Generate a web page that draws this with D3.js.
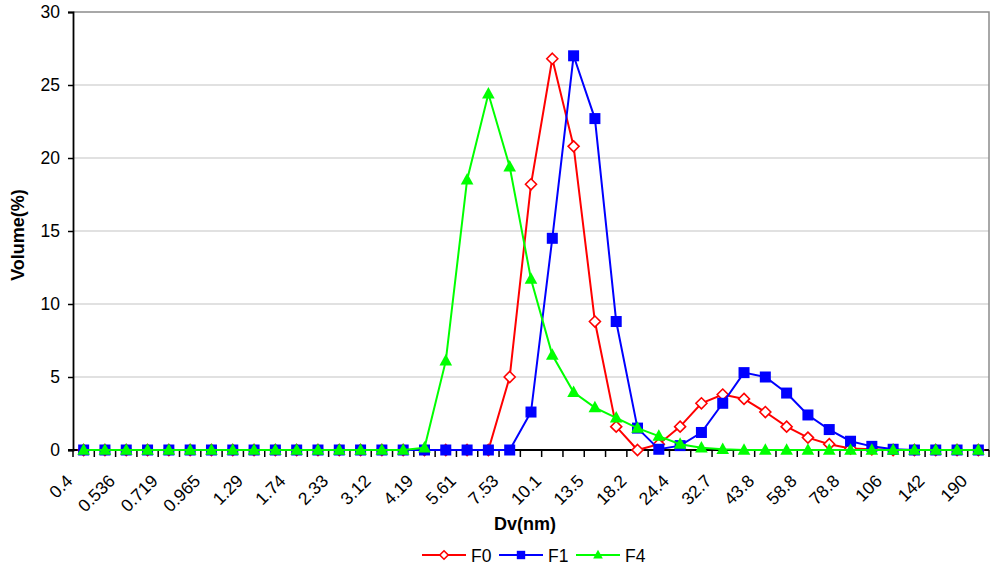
<!DOCTYPE html>
<html>
<head>
<meta charset="utf-8">
<script src="https://cdn.jsdelivr.net/npm/d3@7"></script>
<style>
  body { margin: 0; background: #fff; }
  text { font-family: "Liberation Sans", Arial, sans-serif; }
</style>
</head>
<body>
<div id="chart"></div>
<script>
// size classes (nm), one per measured channel
var sizes = ["0.4", "0.464", "0.536", "0.62", "0.719", "0.834", "0.965", "1.12", "1.29", "1.5",
             "1.74", "2.01", "2.33", "2.7", "3.12", "3.62", "4.19", "4.85", "5.61", "6.49",
             "7.53", "8.72", "10.1", "11.7", "13.5", "15.7", "18.2", "21", "24.4", "28.2",
             "32.7", "37.8", "43.8", "50.7", "58.8", "68.1", "78.8", "91.3", "106", "122",
             "142", "164", "190"];

var f0 = [0, 0, 0, 0, 0, 0, 0, 0, 0, 0,
          0, 0, 0, 0, 0, 0, 0, 0, 0, 0,
          5.0, 18.2, 26.8, 20.8, 8.8, 1.6, 0.0, 0.4, 1.6, 3.2,
          3.8, 3.5, 2.6, 1.6, 0.85, 0.4, 0.1, 0.05, 0, 0,
          0, 0, 0];

var f1 = [0, 0, 0, 0, 0, 0, 0, 0, 0, 0,
          0, 0, 0, 0, 0, 0, 0, 0, 0, 0,
          0, 2.6, 14.5, 27.0, 22.7, 8.8, 1.5, 0.05, 0.3, 1.2,
          3.2, 5.3, 5.0, 3.9, 2.4, 1.4, 0.6, 0.25, 0.05, 0,
          0, 0, 0];

var f4 = [0, 0, 0, 0, 0, 0, 0, 0, 0, 0,
          0, 0, 0, 0, 0, 0, 0.15, 6.1, 18.5, 24.4,
          19.4, 11.7, 6.5, 3.95, 2.9, 2.2, 1.5, 0.95, 0.4, 0.15,
          0.05, 0, 0, 0, 0, 0, 0, 0, 0, 0,
          0, 0, 0];

var yTicks = [0, 5, 10, 15, 20, 25, 30];

var series = [
  { name: "F0", values: f0, color: "#ff0000", shape: "diamond" },
  { name: "F1", values: f1, color: "#0000ff", shape: "square" },
  { name: "F4", values: f4, color: "#00ff00", shape: "triangle" }
];

var width = 1000, height = 570;
var pLeft = 73, pRight = 989, pTop = 12, pBottom = 450;

var svg = d3.select("#chart").append("svg")
            .attr("width", width)
            .attr("height", height);

var x = d3.scaleBand()
          .domain(sizes)
          .range([pLeft, pRight]);

var y = d3.scaleLinear()
          .domain([0, 30])
          .range([pBottom, pTop]);

function cx(i) { return x(sizes[i]) + x.bandwidth() / 2; }

// gridlines
svg.append("g")
   .selectAll("line")
   .data(yTicks.filter(function(d) { return d > 0 && d < 30; }))
   .enter().append("line")
   .attr("x1", pLeft).attr("x2", pRight)
   .attr("y1", function(d) { return y(d); })
   .attr("y2", function(d) { return y(d); })
   .attr("stroke", "#c4c4c4")
   .attr("stroke-width", 1.2);

// plot frame (top and right)
svg.append("path")
   .attr("d", "M" + pLeft + "," + y(30) + "H" + pRight + "V" + pBottom)
   .attr("fill", "none")
   .attr("stroke", "#8c8c8c")
   .attr("stroke-width", 1.5);

// y axis
var yAxis = svg.append("g")
               .attr("transform", "translate(" + pLeft + ",0)")
               .call(d3.axisLeft(y).tickValues(yTicks).tickSize(5).tickPadding(8));
yAxis.select(".domain").attr("stroke", "#000").attr("stroke-width", 1.8);
yAxis.selectAll(".tick line").attr("stroke", "#000").attr("stroke-width", 1.5);
yAxis.selectAll(".tick text")
     .style("font-size", "17.5px")
     .style("font-family", "Liberation Sans, Arial, sans-serif")
     .attr("fill", "#000");

// x axis: ticks on category boundaries
var xg = svg.append("g");
xg.append("line")
  .attr("x1", pLeft - 5).attr("x2", pRight)
  .attr("y1", pBottom).attr("y2", pBottom)
  .attr("stroke", "#000").attr("stroke-width", 1.8);

var bounds = sizes.map(function(d) { return x(d); }).concat([pRight]);
xg.selectAll("line.tick")
  .data(bounds)
  .enter().append("line")
  .attr("class", "tick")
  .attr("x1", function(d) { return d; })
  .attr("x2", function(d) { return d; })
  .attr("y1", pBottom)
  .attr("y2", pBottom + 7)
  .attr("stroke", "#000")
  .attr("stroke-width", 1.5);

xg.selectAll("text")
  .data(sizes.filter(function(d, i) { return i % 2 === 0; }))
  .enter().append("text")
  .attr("transform", function(d) {
    return "translate(" + (x(d) + x.bandwidth() / 2 - 10) + "," + (pBottom + 32) + ") rotate(-45)";
  })
  .attr("text-anchor", "end")
  .style("font-size", "17.5px")
  .attr("fill", "#000")
  .text(function(d) { return d; });

// axis titles
svg.append("text")
   .attr("x", 525)
   .attr("y", 530)
   .attr("text-anchor", "middle")
   .style("font-size", "18px")
   .attr("font-weight", "bold")
   .text("Dv(nm)");

svg.append("text")
   .attr("transform", "translate(24," + 235 + ") rotate(-90)")
   .attr("text-anchor", "middle")
   .style("font-size", "18px")
   .attr("font-weight", "bold")
   .text("Volume(%)");

// markers
function marker(sel, s, r) {
  if (s.shape === "diamond") {
    sel.append("path")
       .attr("d", "M0," + (-r) + "L" + r + ",0L0," + r + "L" + (-r) + ",0Z")
       .attr("fill", "#fff")
       .attr("stroke", s.color)
       .attr("stroke-width", 1.6);
  } else if (s.shape === "square") {
    sel.append("rect")
       .attr("x", -r).attr("y", -r)
       .attr("width", 2 * r).attr("height", 2 * r)
       .attr("fill", s.color);
  } else {
    sel.append("path")
       .attr("d", "M0," + (-r * 1.25) + "L" + (r * 1.15) + "," + (r * 0.85) + "L" + (-r * 1.15) + "," + (r * 0.85) + "Z")
       .attr("fill", s.color);
  }
}

var line = d3.line()
             .x(function(d, i) { return cx(i); })
             .y(function(d) { return y(d); });

series.forEach(function(s) {
  var g = svg.append("g");
  g.append("path")
   .datum(s.values)
   .attr("d", line)
   .attr("fill", "none")
   .attr("stroke", s.color)
   .attr("stroke-width", 2);

  g.selectAll("g.pt")
   .data(s.values)
   .enter().append("g")
   .attr("class", "pt")
   .attr("transform", function(d, i) { return "translate(" + cx(i) + "," + y(d) + ")"; })
   .each(function() { marker(d3.select(this), s, 5.5); });
});

// legend
var legend = svg.append("g").attr("transform", "translate(422,555)");
series.forEach(function(s, i) {
  var lg = legend.append("g").attr("transform", "translate(" + (i * 77) + ",0)");
  lg.append("line")
    .attr("x1", 0).attr("x2", 44)
    .attr("y1", 0).attr("y2", 0)
    .attr("stroke", s.color)
    .attr("stroke-width", 2);
  var m = lg.append("g").attr("transform", "translate(22,0)");
  marker(m, s, 4.2);
  lg.append("text")
    .attr("x", 49)
    .attr("y", 6.5)
    .style("font-size", "17.5px")
    .text(s.name);
});
</script>
</body>
</html>
